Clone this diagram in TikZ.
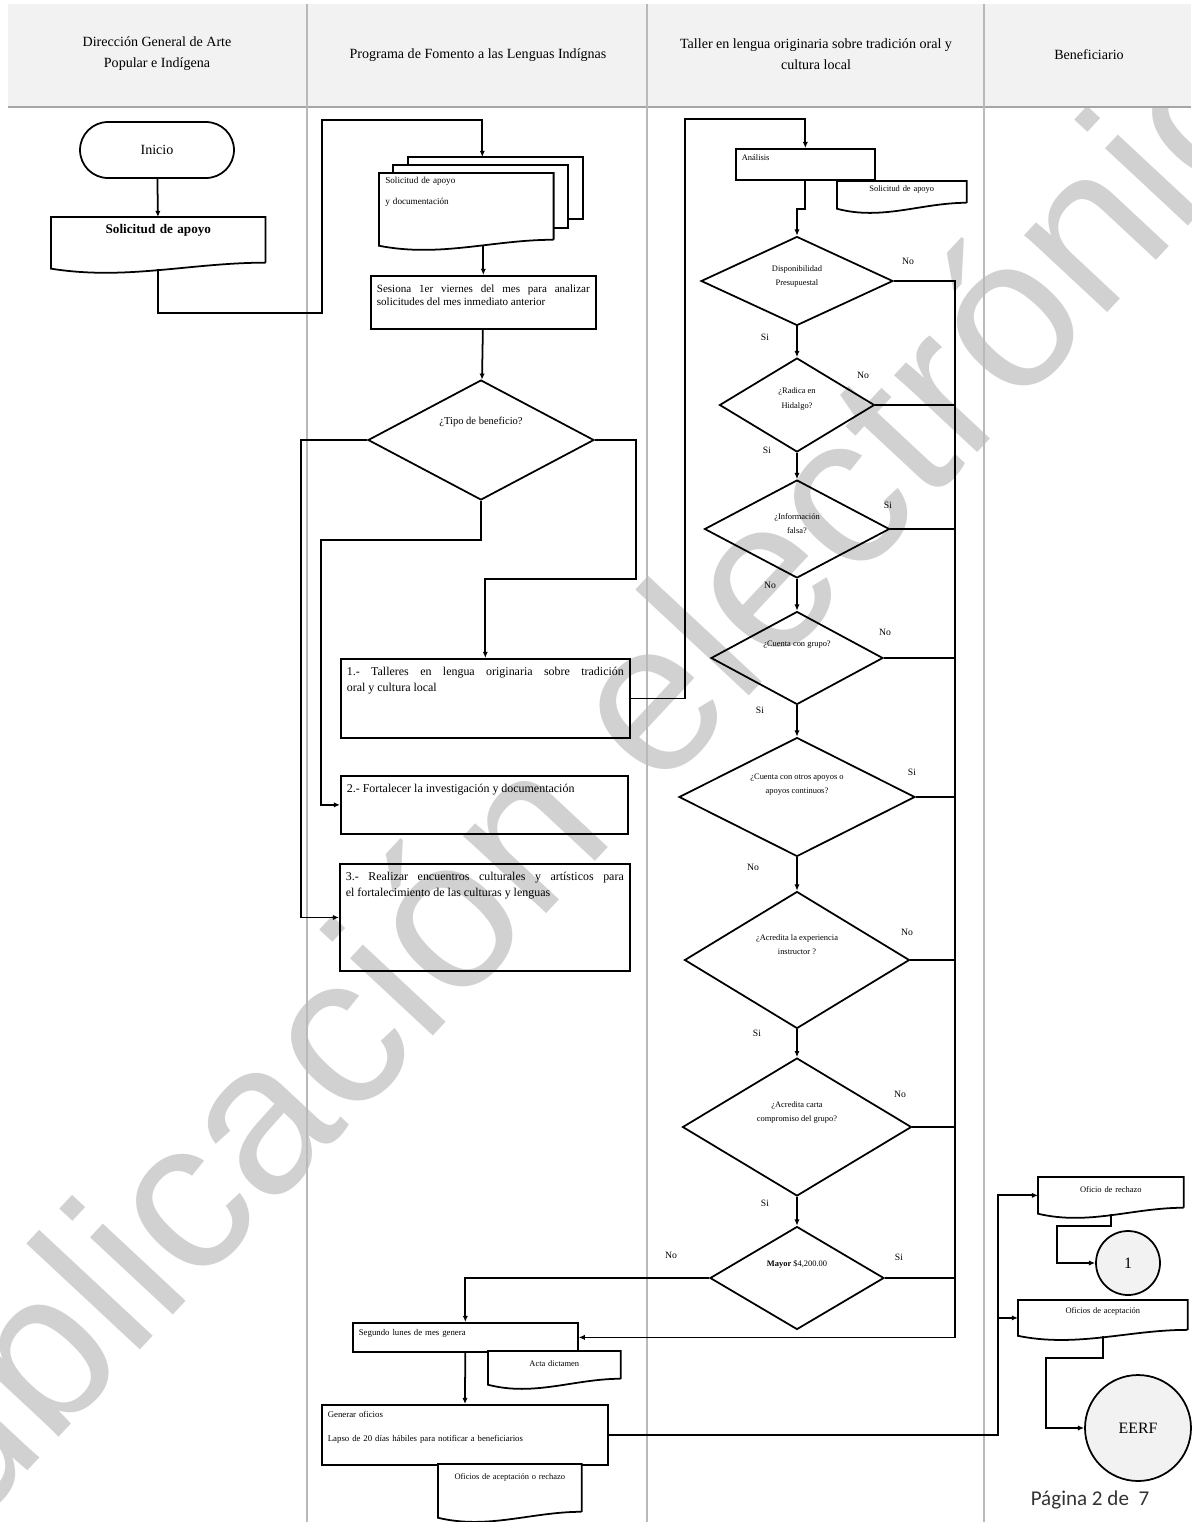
\documentclass[tikz,border=0pt]{standalone}
\usepackage{fontspec}
\setmainfont{Liberation Serif}
\newfontfamily\pagefont{Carlito}
\newfontfamily\markfont{Liberation Sans}
\usetikzlibrary{arrows.meta, positioning, shapes.geometric, calc, backgrounds}

% outline of a document symbol round a (borderless) node
\newcommand{\docedge}[1]{%
  \draw[line width=1pt] ($(#1.south east)+(0,-6)$) -- (#1.north east) -- (#1.north west) -- (#1.south west)
    .. controls ($(#1.south west)!0.35!(#1.south east)+(0,12)$) and ($(#1.south west)!0.65!(#1.south east)+(0,-6)$) .. ($(#1.south east)+(0,-6)$);}

\begin{document}
\begin{tikzpicture}[x=0.02cm, y=-0.02cm,
  line/.style={line width=1pt},
  arr/.style={line width=1pt, -{Latex[length=3.5pt, width=3pt]}},
  lane/.style={draw=gray!55, line width=1.3pt},
  head/.style={font=\fontsize{8}{12}\selectfont, align=center},
  proc/.style={draw, line width=1pt, anchor=north west, inner xsep=3.4pt, inner ysep=4.5pt,
    text height=5pt, font=\fontsize{6.8}{9}\selectfont, align=justify},
  docu/.style={fill=white, anchor=north west, inner xsep=3.4pt, inner ysep=2.5pt,
    text height=5pt, font=\fontsize{4.8}{7}\selectfont, align=center},
  dec/.style={draw, diamond, line width=1pt, inner sep=0pt},
  dtxt/.style={font=\fontsize{4.8}{8}\selectfont, align=center},
  yn/.style={font=\fontsize{5.5}{6}\selectfont},
  conn/.style={circle, draw, line width=1pt, fill=gray!10, inner sep=0pt, font=\fontsize{9}{10}\selectfont}
]
\useasboundingbox (0,0) rectangle (1191,1522);

\begin{scope}
  \clip (0,107) rectangle (1191,1522);
  \node[rotate=47, text=black!18, font=\markfont\fontsize{122}{122}\selectfont] (wm) at (585,790) {publicación electrónica};
\end{scope}

% swimlanes
\fill[gray!10] (8,4) rectangle (1191,107);
\draw[gray!70, line width=1.6pt] (8,107) -- (1191,107);
\foreach \x in {307,647,984} \draw[lane] (\x,4) -- (\x,1522);
\node[head] (h1) at (157,54) {Dirección General de Arte\\Popular e Indígena};
\node[head] (h2) at (478,55) {Programa de Fomento a las Lenguas Indígnas};
\node[head] (h3) at (816,54) {Taller en lengua originaria sobre tradición oral y\\cultura local};
\node[head] (h4) at (1089,55) {Beneficiario};

% Dirección General
\node[draw, line width=1pt, rounded corners=0.56cm, minimum width=3.08cm, minimum height=1.12cm,
  font=\fontsize{8}{10}\selectfont] (inicio) at (157,150) {Inicio};
\node[docu, text width=4.04cm, inner ysep=3.5pt, text height=5.5pt, text depth=16.5pt,
  font=\fontsize{7.5}{9}\selectfont\bfseries] (sol) at (51,217) {Solicitud de apoyo};
\docedge{sol}

% Programa de Fomento
\node[docu, text width=3.24cm, align=left, text height=3.5pt, text depth=32.5pt,
  font=\fontsize{5.2}{7}\selectfont] (msol) at (379,173) {Solicitud de apoyo\\[5pt]y documentación};
\begin{scope}[on background layer]
  \draw[line, fill=white] ($(msol.north west)+(29,-16)$) rectangle ($(msol.south east)+(29,-27)$);
  \draw[line, fill=white] ($(msol.north west)+(14,-8)$) rectangle ($(msol.south east)+(14,-18)$);
\end{scope}
\docedge{msol}
\coordinate (mtop) at ($(msol.north)+(16,-16)$);
\node[proc, text width=4.26cm, text depth=16.2pt, font=\fontsize{6.3}{7.5}\selectfont] (ses) at (370,275)
  {Sesiona 1er viernes del mes para analizar\linebreak solicitudes del mes inmediato anterior};
\node[dec, minimum width=4.52cm, minimum height=2.4cm] (tipo) at (481,440) {};
\node[dtxt, font=\fontsize{6}{7}\selectfont] (tipot) at (481,422) {¿Tipo de beneficio?};
\node[proc, text width=5.54cm, text depth=31pt] (t1) at (340,658)
  {1.- Talleres en lengua originaria sobre tradición\linebreak oral y cultura local};
\node[proc, text width=5.5cm, text depth=19pt] (t2) at (340,775)
  {2.- Fortalecer la investigación y documentación};
\node[proc, text width=5.56cm, text depth=47pt] (t3) at (339,863)
  {3.- Realizar encuentros culturales y artísticos para\linebreak el fortalecimiento de las culturas y lenguas};

\node[proc, text width=4.26cm, inner ysep=3.5pt, text height=3.5pt, text depth=6pt,
  font=\fontsize{5}{6}\selectfont, align=left] (seg) at (352,1322) {Segundo lunes de mes genera};
\node[docu, text width=2.4cm, text height=6pt, text depth=7.8pt] (acta) at (488,1351) {Acta dictamen};
\docedge{acta}
\node[proc, text width=5.48cm, inner ysep=3.5pt, text height=3.5pt, text depth=23.6pt,
  font=\fontsize{5}{6}\selectfont, align=left] (gen) at (321,1404)
  {Generar oficios\\[8pt]Lapso de 20 días hábiles para notificar a beneficiarios};
\node[docu, text width=2.62cm, text height=6pt, text depth=19.2pt] (ofi) at (438,1464) {Oficios de aceptación o rechazo};
\docedge{ofi}

% Taller en lengua originaria
\node[proc, text width=2.54cm, inner ysep=3pt, text height=3.5pt, text depth=8.1pt,
  font=\fontsize{4.8}{6}\selectfont, align=left] (ana) at (735,148) {Análisis};
\node[docu, text width=2.34cm, text height=3.5pt, text depth=6.9pt] (sol2) at (837,181) {Solicitud de apoyo};
\docedge{sol2}

\node[dec, minimum width=3.84cm, minimum height=1.78cm] (d1) at (797,281) {};
\node[dec, minimum width=3.1cm, minimum height=1.88cm] (d2) at (797,405) {};
\node[dec, minimum width=3.7cm, minimum height=1.96cm] (d3) at (797,529) {};
\node[dec, minimum width=3.44cm, minimum height=1.86cm] (d4) at (797,658) {};
\node[dec, minimum width=4.72cm, minimum height=2.38cm] (d5) at (797,797) {};
\node[dec, minimum width=4.5cm, minimum height=2.74cm] (d6) at (797,960) {};
\node[dec, minimum width=4.58cm, minimum height=2.76cm] (d7) at (797,1127) {};
\node[dec, minimum width=3.48cm, minimum height=2.06cm] (d8) at (797,1278) {};

\node[dtxt] (d1t) at (797,276) {Disponibilidad\\Presupuestal};
\node[dtxt] (d2t) at (797,399) {¿Radica en\\Hidalgo?};
\node[dtxt] (d3t) at (797,524) {¿Información\\falsa?};
\node[dtxt] (d4t) at (797,645) {¿Cuenta con grupo?};
\node[dtxt] (d5t) at (797,785) {¿Cuenta con otros apoyos o\\apoyos continuos?};
\node[dtxt] (d6t) at (797,945) {¿Acredita la experiencia\\instructor ?};
\node[dtxt] (d7t) at (797,1112) {¿Acredita carta\\compromiso del grupo?};
\node[dtxt] (d8t) at (797,1264) {\textbf{Mayor} \$4,200.00};

\node[yn] (n1) at (908,261) {No};   \node[yn] (y1) at (765,337) {Si};
\node[yn] (n2) at (863,375) {No};   \node[yn] (y2) at (767,450) {Si};
\node[yn] (y3) at (888,505) {Si};   \node[yn] (n3) at (770,585) {No};
\node[yn] (n4) at (885,632) {No};   \node[yn] (y4) at (760,710) {Si};
\node[yn] (y5) at (912,772) {Si};   \node[yn] (n5) at (753,867) {No};
\node[yn] (n6) at (907,932) {No};   \node[yn] (y6) at (757,1033) {Si};
\node[yn] (n7) at (900,1094) {No};  \node[yn] (y7) at (765,1203) {Si};
\node[yn] (y8) at (899,1257) {Si};  \node[yn] (n8) at (671,1255) {No};

% Beneficiario
\node[docu, text width=2.66cm, text height=6pt, text depth=9.5pt] (rech) at (1038,1177) {Oficio de rechazo};
\docedge{rech}
\node[conn, minimum size=1.28cm] (c1) at (1128,1263) {1};
\node[docu, text width=3.14cm, text height=5pt, text depth=10pt] (acep) at (1018,1300) {Oficios de aceptación};
\docedge{acep}
\node[conn, minimum size=2.12cm] (eerf) at (1138,1428) {EERF};
\node[font=\pagefont\fontsize{12}{14}\selectfont, text=black!80] (pag) at (1090,1500) {Página 2 de\ \ 7};

% connectors
\draw[arr] (inicio) -- (sol);
\draw[arr] (sol.south) -- ++(0,44) -| ++(164,-193) -| (mtop);
\draw[arr] (msol.south -| ses.north) -- (ses.north);
\draw[arr] (ses) -- (tipo);
\draw[arr] (tipo.east) -- ++(41,0) |- ($(t1.north)+(0,-79)$) -- (t1.north);
\draw[arr] (tipo.south) -- ++(0,39) -| ($(t2.west)+(-19,0)$) -- (t2.west);
\draw[arr] (tipo.west) -| ($(t3.west)+(-38,0)$) -- (t3.west);
\draw[arr] (t1.east) -- ++(54,0) |- ($(ana.north)+(0,-29)$) -- (ana.north);
\draw[arr] (ana.south) -- ++(0,28) -| (d1.north);
\foreach \a/\b in {d1/d2, d2/d3, d3/d4, d4/d5, d5/d6, d6/d7, d7/d8}
  \draw[arr] (\a.south) -- (\b.north);
\coordinate (bus) at ($(d1.east)+(61,0)$);
\draw[arr] (d1.east) -- (bus) |- (seg.east);
\foreach \i in {2,...,8}
  \draw[line] (d\i.east) -- (d\i.east -| bus);
\draw[arr] (d8.west) -| (seg.north);
\draw[arr] (seg) -- (gen);
\coordinate (split) at ($(gen.east)+(389,0)$);
\draw[arr] (gen.east) -- (split) |- (rech.west);
\draw[arr] (split) |- (acep.west);
\draw[arr] (rech.south) -- ++(0,12) -| ($(c1.west)+(-38,0)$) -- (c1.west);
\draw[arr] (acep.south) -- ++(0,22) -| ($(eerf.west)+(-38,0)$) -- (eerf.west);
\end{tikzpicture}
\end{document}
